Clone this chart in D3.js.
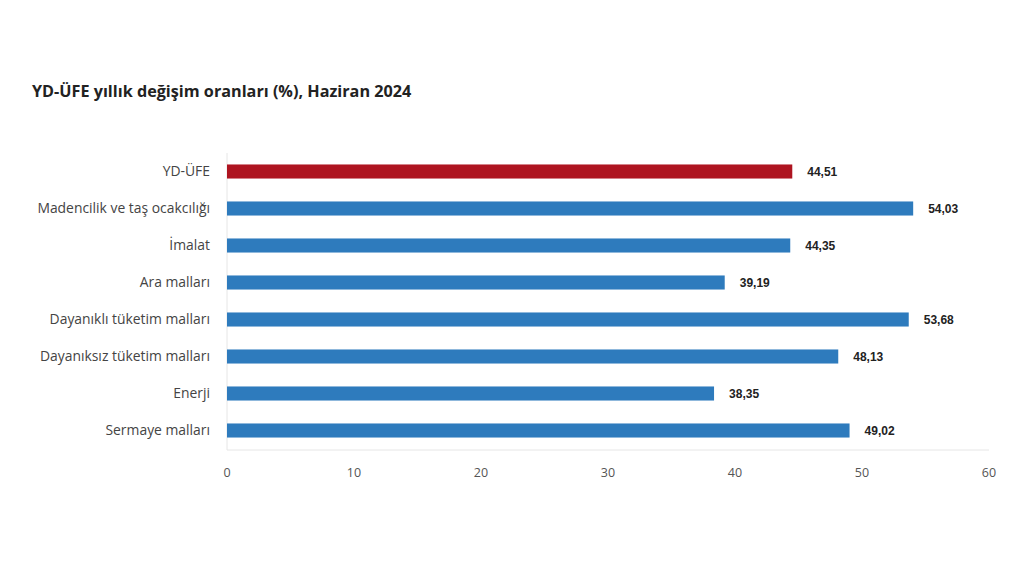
<!DOCTYPE html>
<html><head><meta charset="utf-8">
<script src="https://cdn.jsdelivr.net/npm/d3@7"></script>
<style>body{margin:0;background:#fff}svg{display:block}</style>
</head><body>
<svg id="c" width="1024" height="576"></svg>
<script>
const categories = ["YD-ÜFE","Madencilik ve taş ocakcılığı","İmalat","Ara malları","Dayanıklı tüketim malları","Dayanıksız tüketim malları","Enerji","Sermaye malları"];
const values = [44.51,54.03,44.35,39.19,53.68,48.13,38.35,49.02];
const ticks = [0,10,20,30,40,50,60];
const title = "YD-ÜFE yıllık değişim oranları (%), Haziran 2024";

const svg = d3.select("#c");
const x = d3.scaleLinear().domain([0,60]).range([227,989]);
const y = d3.scaleBand().domain(categories).range([153,449]).paddingInner(0.62).paddingOuter(0.31);

svg.append("text").attr("x",32).attr("y",97).text(title)
  .attr("font-family","Open Sans").attr("font-weight","bold").attr("font-size",16.2).attr("fill","#222");

svg.append("line").attr("x1",x(0)).attr("x2",x(0)).attr("y1",153).attr("y2",450).attr("stroke","#e6e6e6");
svg.append("line").attr("x1",x(0)).attr("x2",x(60)).attr("y1",450).attr("y2",450).attr("stroke","#e6e6e6");

svg.selectAll("rect.b").data(values).join("rect")
  .attr("x",x(0)).attr("y",(d,i)=>y(categories[i]))
  .attr("width",d=>x(d)-x(0)).attr("height",y.bandwidth())
  .attr("fill",(d,i)=>i===0?"#ae1420":"#2e7bbd");

svg.selectAll("text.v").data(values).join("text")
  .attr("x",d=>x(d)+15).attr("y",(d,i)=>y(categories[i])+y.bandwidth()/2).attr("dy","0.35em")
  .text(d=>d.toFixed(2).replace(".",","))
  .attr("font-family","Liberation Sans").attr("font-weight","bold").attr("font-size",12).attr("fill","#222");

svg.selectAll("text.c").data(categories).join("text")
  .attr("x",210).attr("y",d=>y(d)+y.bandwidth()/2).attr("dy","0.35em").attr("text-anchor","end")
  .text(d=>d).attr("font-family","Open Sans").attr("font-size",13.9).attr("fill","#444");

svg.selectAll("text.t").data(ticks).join("text")
  .attr("x",d=>x(d)).attr("y",477).attr("text-anchor","middle").text(d=>d)
  .attr("font-family","Open Sans").attr("font-size",12.5).attr("fill","#555");
</script>
</body></html>
